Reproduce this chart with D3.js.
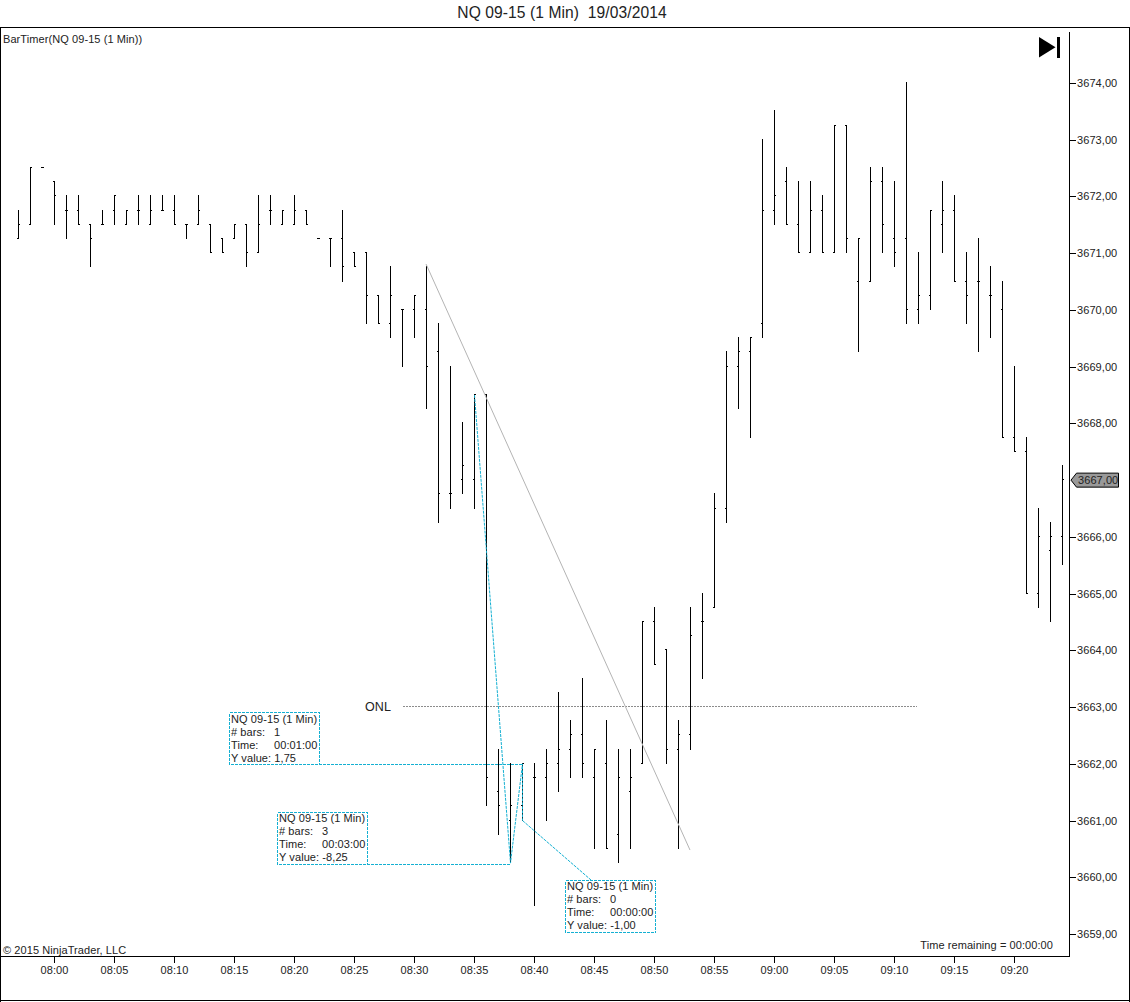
<!DOCTYPE html>
<html><head><meta charset="utf-8">
<script src="https://cdn.jsdelivr.net/npm/d3@7"></script>
<style>
html,body{margin:0;padding:0;background:#fff}
svg{display:block}
text{font-family:"Liberation Sans",Arial,sans-serif;fill:#222;letter-spacing:.08px;white-space:pre}
</style></head><body>
<svg id="c" width="1130" height="1002"></svg>
<script>
const chartTitle = "NQ 09-15 (1 Min)  19/03/2014";
const firstBarMinute = 477; // 07:57
const opens = [3671.25,3671.5,3672.5,3672.25,3671.75,3671.75,3671.5,3671.5,3671.75,3671.5,3671.75,3671.5,3671.75,3671.75,3671.5,3671.5,3671.5,3671.25,3671.25,3671.5,3671,3671.75,3671.5,3671.5,3671.75,3671.25,3671.25,3671.25,3671,3671,
3670.25,3669.75,3670,3670,3670,3669.25,3666.75,3667,3667,3668.5,3661.5,3661,3661.25,3661.75,3661.75,3662,3662.25,3662.5,3661.75,3662,3660.75,3661.5,3662,3664.5,3664,3662.25,3662.5,3664.5,3664.75,3666.5,
3669,3669.25,3669.75,3671.75,3672.25,3671.5,3671,3671.75,3671,3673.25,3670.5,3670.5,3672.25,3671.25,3671.25,3670,3670.25,3671.5,3671.75,3670.5,3670.5,3670.25,3670,3667.75,3667.5,3665,3665.75,3666];
const highs = [3671.75,3672.5,3672.5,3672.25,3672,3672,3671.5,3671.75,3672,3671.75,3672,3672,3672,3672,3671.5,3672,3671.5,3671.25,3671.5,3671.5,3672,3672,3671.75,3672,3671.75,3671.25,3671.25,3671.75,3671,3671,
3670.25,3670.75,3670,3670.25,3670.75,3669.75,3669,3668,3668.5,3668.5,3662.25,3662,3662,3662,3662.25,3663.25,3662.75,3663.5,3662.25,3662.75,3662.25,3662.25,3664.5,3664.75,3664,3662.75,3664.75,3665,3666.75,3669.25,
3669.5,3669.5,3673,3673.5,3672.5,3672.25,3672.25,3672,3673.25,3673.25,3671.25,3672.5,3672.5,3672.25,3674,3671,3671.75,3672.25,3672,3671,3671.25,3670.75,3670.5,3669,3667.75,3666.5,3666.25,3667.25];
const lows = [3671.25,3671.5,3672.5,3671.5,3671.25,3671.5,3670.75,3671.5,3671.5,3671.5,3671.5,3671.5,3671.75,3671.5,3671.25,3671.5,3671,3671,3671.25,3670.75,3671,3671.5,3671.5,3671.5,3671.5,3671.25,3670.75,3670.5,3670.75,3669.75,
3669.75,3669.5,3669,3669.5,3668.25,3666.25,3666.5,3666.75,3666.5,3661.25,3660.75,3660.25,3661,3659.5,3661,3661.5,3661.75,3661.75,3660.5,3660.5,3660.25,3660.5,3662,3663.75,3662,3660.5,3662.25,3663.5,3664.75,3666.25,
3668.25,3667.75,3669.5,3671.5,3671.5,3671,3671,3671,3671,3671,3669.25,3670.5,3671,3670.75,3669.75,3669.75,3670,3671,3670.5,3669.75,3669.25,3669.5,3667.75,3667.5,3665,3664.75,3664.5,3665.5];
const closes = [3671.5,3672.5,3672.5,3672,3671.75,3671.5,3671.25,3671.5,3672,3671.75,3671.75,3671.75,3671.75,3671.5,3671.5,3671.75,3671,3671,3671.5,3671,3671.5,3671.75,3671.75,3671.75,3671.5,3671.25,3671.25,3670.75,3670.75,3670.25,
3669.75,3670.25,3670,3670.25,3669,3666.75,3666.75,3667.25,3668.5,3661.75,3661.25,3661.25,3662,3661.75,3662,3662.25,3662.5,3662,3662.25,3660.5,3661.75,3661.75,3664.5,3663.75,3662.25,3662.5,3664.25,3664.5,3666.5,3669,
3669.25,3669.5,3671.75,3672,3671.5,3671,3671.75,3671,3673.25,3671.25,3671.25,3672.25,3671.5,3671,3670,3670.25,3671.75,3671.75,3670.5,3670.25,3670.5,3670.25,3667.75,3667.5,3665,3666,3666,3667];
const priceTicks = [3659,3660,3661,3662,3663,3664,3665,3666,3668,3669,3670,3671,3672,3673,3674];
const lastPrice = 3667;
const timeTickMinutes = [480,485,490,495,500,505,510,515,520,525,530,535,540,545,550,555,560];
const onlLevel = 3663;
const onlStartEnd = [509.08,551.9];
const trendTimes = [511,533];
const trendPrices = [3670.81,3660.48];
const measureTimes = [515,518,519,519];
const measurePrices = [3668.5,3660.25,3662,3661];
const note1 = ["NQ 09-15 (1 Min)","# bars:","1","Time:","00:01:00","Y value: 1,75"];
const note2 = ["NQ 09-15 (1 Min)","# bars:","3","Time:","00:03:00","Y value: -8,25"];
const note3 = ["NQ 09-15 (1 Min)","# bars:","0","Time:","00:00:00","Y value: -1,00"];

const CYAN = "#14b0d2";
const svg = d3.select("#c");
const minuteDate = m => new Date(2014,2,19,Math.floor(m/60),Math.floor(m%60),Math.round((m%1)*60));
const x = d3.scaleTime().domain([minuteDate(480),minuteDate(560)]).range([54,1014]);
const y = d3.scaleLinear().domain([3659,3674]).range([934,83]);
const px = m => Math.round(x(minuteDate(m)))+0.5;
const py = v => Math.round(y(v))-0.5;

// frames
const frame = svg.append("g").attr("shape-rendering","crispEdges").attr("stroke","#000").attr("fill","none");
[[0,27.5,1130,27.5],[0.5,27,0.5,1002],[0,956.5,1069.5,956.5],[1069.5,32,1069.5,957],[1129.5,27,1129.5,1002],[0,1000.5,1130,1000.5]]
 .forEach(d=>frame.append("line").attr("x1",d[0]).attr("y1",d[1]).attr("x2",d[2]).attr("y2",d[3]));

// title and captions
svg.append("text").attr("x",562).attr("y",18).attr("text-anchor","middle").style("font-size","15.6px").text(chartTitle);
svg.append("text").attr("x",3).attr("y",43).style("font-size","11px").text("BarTimer(NQ 09-15 (1 Min))");
svg.append("text").attr("x",3).attr("y",954).style("font-size","11px").text("© 2015 NinjaTrader, LLC");
svg.append("text").attr("x",1053).attr("y",949).attr("text-anchor","end").style("font-size","11px").text("Time remaining = 00:00:00");

// icon
svg.append("path").attr("d","M1039 37L1055.5 47.3L1039 57.5Z").attr("fill","#000");
svg.append("rect").attr("x",1057).attr("y",37).attr("width",3).attr("height",21).attr("fill","#000");

// axes
const xAxis = d3.axisBottom(x).tickValues(timeTickMinutes.map(minuteDate)).tickFormat(d3.timeFormat("%H:%M")).tickSize(6).tickPadding(3);
const gx = svg.append("g").attr("transform","translate(0,957)").call(xAxis);
gx.select(".domain").remove();
gx.selectAll("line").attr("stroke","#000").attr("shape-rendering","crispEdges");
gx.selectAll("text").style("font-size","11px").style("font-family",'"Liberation Sans"').attr("fill","#222");

const fmt = v => v.toFixed(2).replace(".",",");
const yAxis = d3.axisRight(y).tickValues(priceTicks).tickFormat(fmt).tickSize(6).tickPadding(1);
const gy = svg.append("g").attr("transform","translate(1070,0)").call(yAxis);
gy.select(".domain").remove();
gy.selectAll("line").attr("stroke","#000").attr("shape-rendering","crispEdges");
gy.selectAll("text").style("font-size","11px").style("font-family",'"Liberation Sans"').attr("fill","#222");

// bars
const idx = d3.range(opens.length);
const bars = svg.append("g").attr("stroke","#000").attr("stroke-width",1).attr("shape-rendering","crispEdges");
bars.selectAll("path").data(idx).join("path").attr("fill","none").attr("d",i=>{
  const cx = px(firstBarMinute+i);
  if(highs[i]===lows[i]) return `M${cx-1.5} ${py(opens[i])}H${cx+1.5}`;
  return `M${cx} ${py(highs[i])-0.5}V${py(lows[i])+0.5}M${cx-1.5} ${py(opens[i])}H${cx}M${cx} ${py(closes[i])}H${cx+1.5}`;
});

// ONL
svg.append("line").attr("x1",x(minuteDate(onlStartEnd[0]))).attr("x2",x(minuteDate(onlStartEnd[1]))).attr("y1",py(onlLevel)).attr("y2",py(onlLevel))
 .attr("stroke","#8c8c8c").attr("stroke-dasharray","2,1").attr("shape-rendering","crispEdges");
svg.append("text").attr("x",365).attr("y",711).style("font-size","12.5px").text("ONL");

// trend line
svg.append("line").attr("x1",x(minuteDate(trendTimes[0]))).attr("y1",y(trendPrices[0])).attr("x2",x(minuteDate(trendTimes[1]))).attr("y2",y(trendPrices[1])).attr("stroke","#b4b4b4");

// measure line
const line = d3.line().x((d,i)=>px(measureTimes[i])).y((d,i)=>y(measurePrices[i]));
const cyan = svg.append("g").attr("fill","none").attr("stroke",CYAN).attr("stroke-dasharray","3,1");
cyan.append("path").attr("d",line(measureTimes));

function note(b,lines,textTop){
  cyan.append("rect").attr("x",b[0]+.5).attr("y",b[1]+.5).attr("width",90).attr("height",b[2]).attr("shape-rendering","crispEdges");
  const t = svg.append("g").style("font-size","11px");
  [[lines[0],2,11],[lines[1],2,24],[lines[2],45,24],[lines[3],2,37],[lines[4],45,37],[lines[5],2,50]].forEach(l=>
    t.append("text").attr("x",b[0]+l[1]).attr("y",textTop+l[2]).text(l[0]));
}
note([229,712,52],note1,712);
note([277,812,52],note2,811);
note([565,880,52],note3,879);
cyan.append("line").attr("x1",319).attr("y1",764.5).attr("x2",px(519)).attr("y2",764.5).attr("shape-rendering","crispEdges");
cyan.append("line").attr("x1",367).attr("y1",864.5).attr("x2",px(518)).attr("y2",864.5).attr("shape-rendering","crispEdges");
cyan.append("line").attr("x1",px(519)).attr("y1",y(3661)).attr("x2",591).attr("y2",880);

// last price tag
const ly = y(lastPrice);
svg.append("path").attr("d",`M1071 ${ly}L1076.5 ${ly-7}H1118.5V${ly+7}H1076.5Z`).attr("fill","#999").attr("stroke","#000");
svg.append("text").attr("x",1078).attr("y",ly+4).style("font-size","11px").attr("fill","#111").text(fmt(lastPrice));
</script>
</body></html>
